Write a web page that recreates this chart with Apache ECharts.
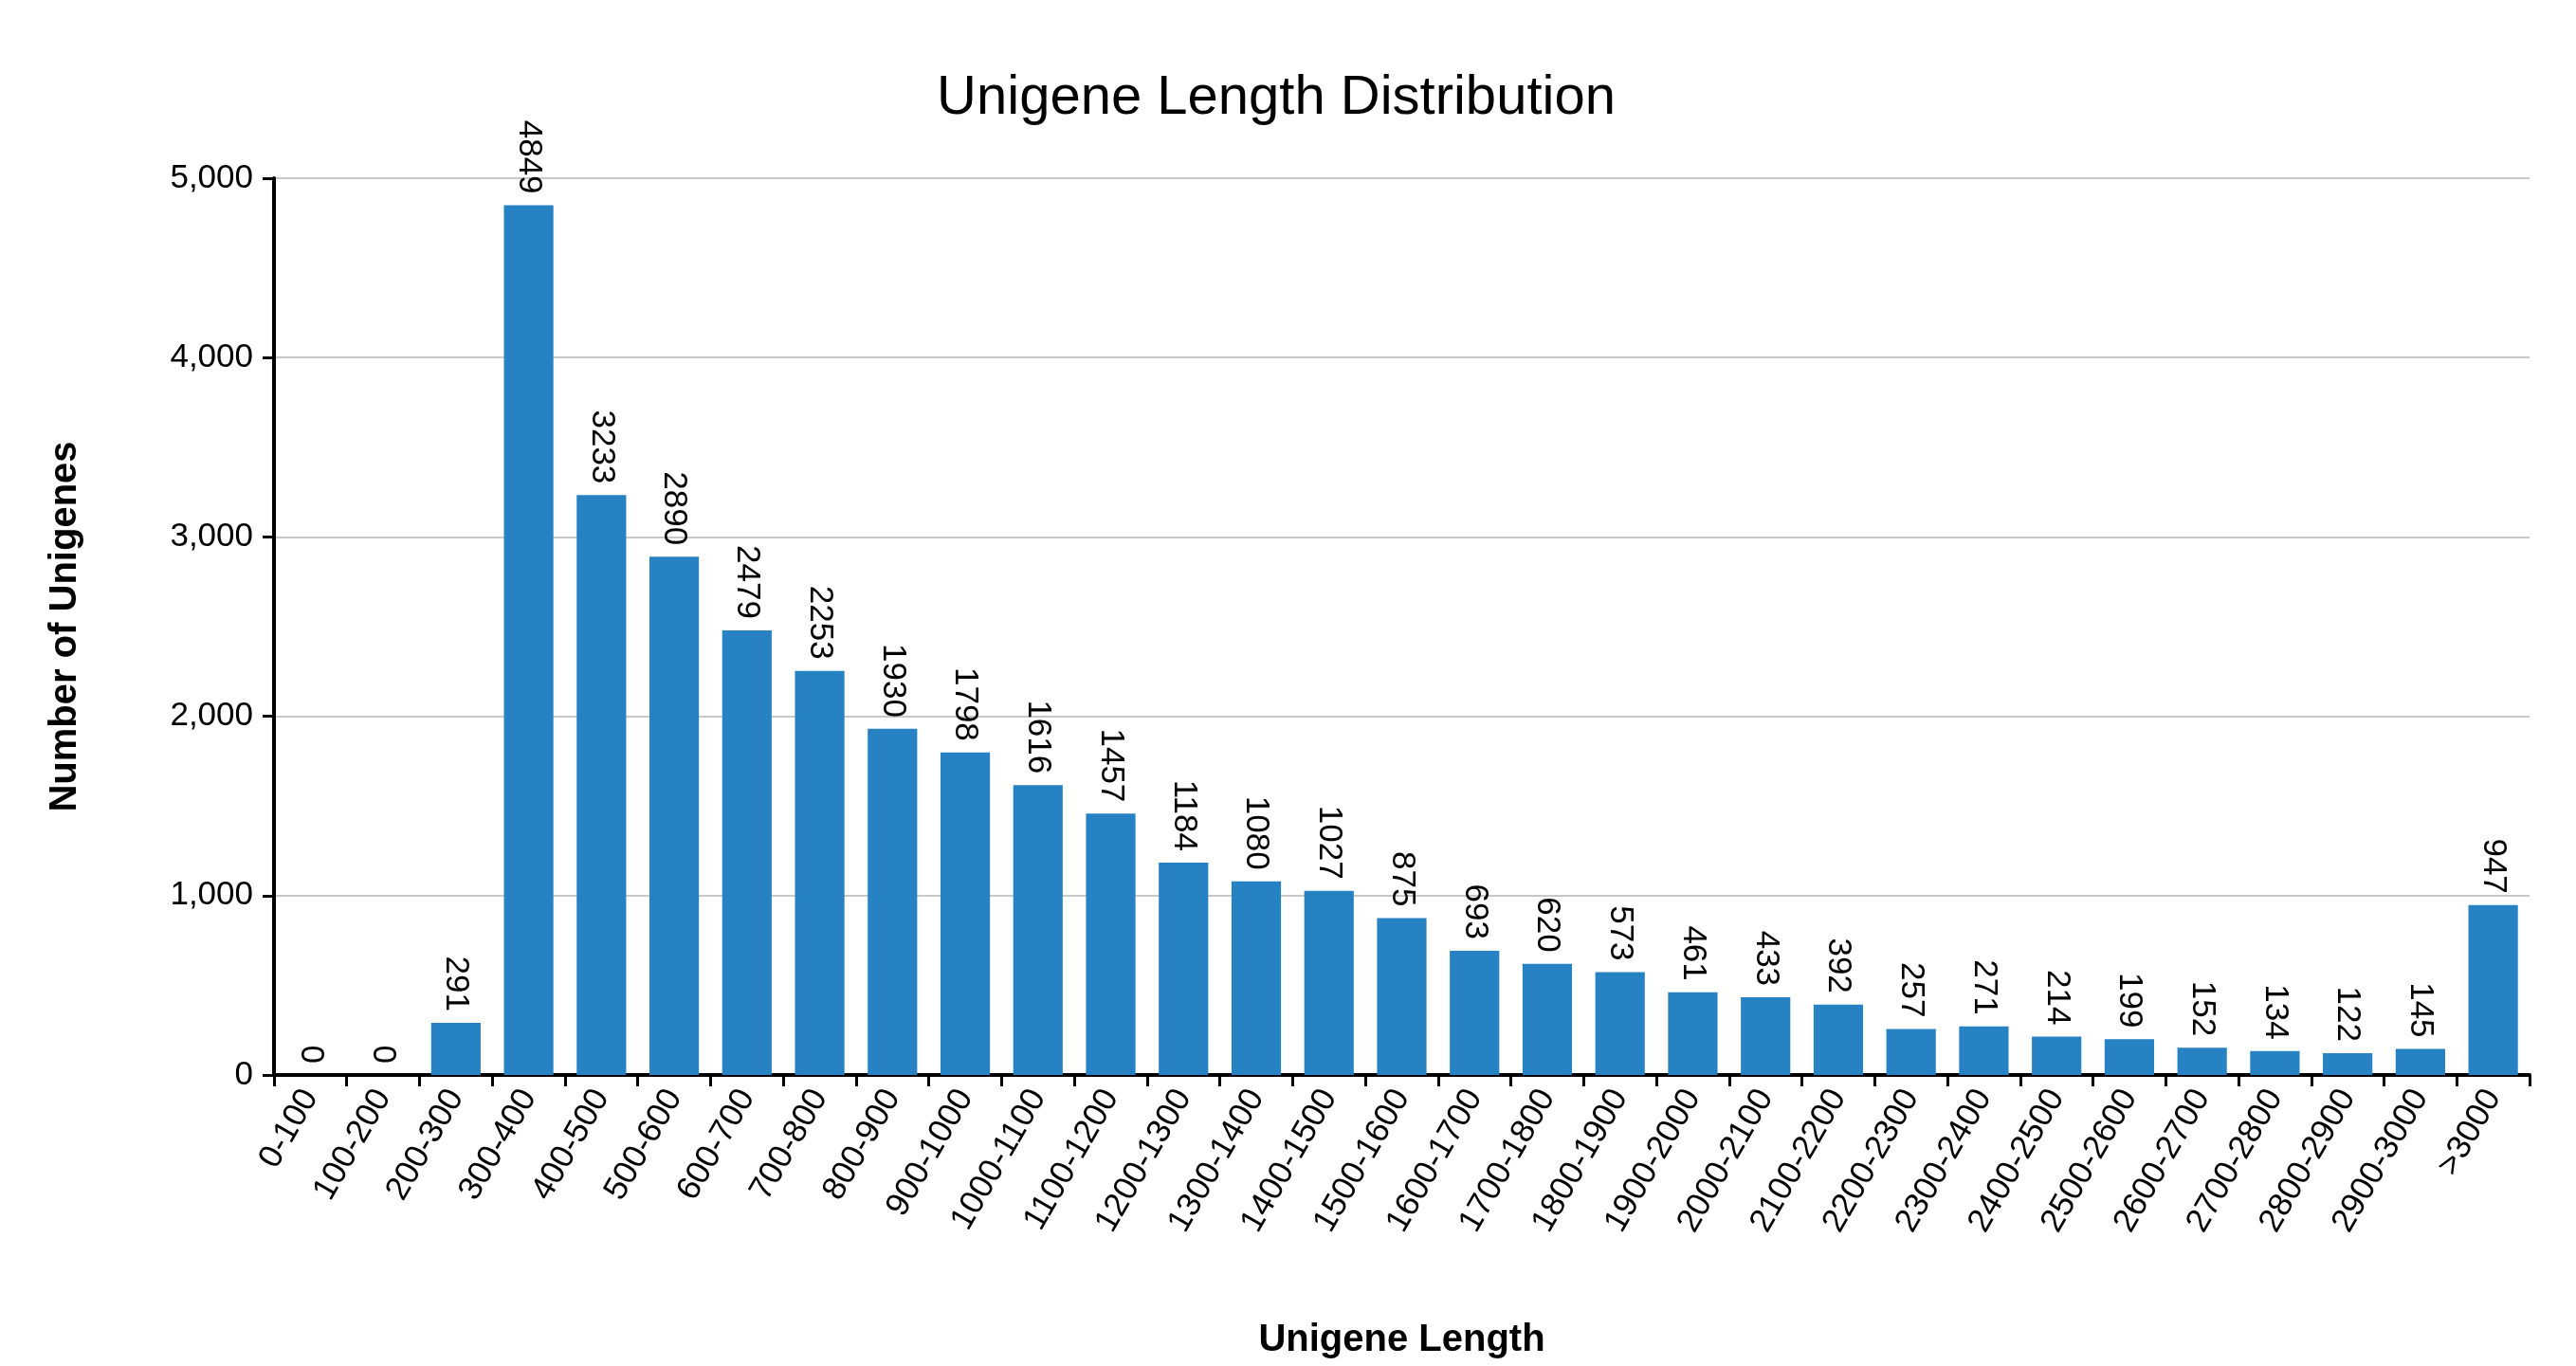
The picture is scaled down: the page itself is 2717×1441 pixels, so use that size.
<!DOCTYPE html>
<html><head><meta charset="utf-8">
<script src="https://cdn.jsdelivr.net/npm/echarts@6/dist/echarts.min.js"></script>
<style>html,body{margin:0;background:#fff}#c{width:2717px;height:1441px}</style>
</head><body><div id="c"></div>
<script>
const categories = ['0-100','100-200','200-300','300-400','400-500','500-600','600-700','700-800','800-900','900-1000',
  '1000-1100','1100-1200','1200-1300','1300-1400','1400-1500','1500-1600','1600-1700','1700-1800','1800-1900','1900-2000',
  '2000-2100','2100-2200','2200-2300','2300-2400','2400-2500','2500-2600','2600-2700','2700-2800','2800-2900','2900-3000','>3000'];
const counts = [0,0,291,4849,3233,2890,2479,2253,1930,1798,1616,1457,1184,1080,1027,875,693,620,573,461,433,392,257,271,214,199,152,134,122,145,947];

const chart = echarts.init(document.getElementById('c'));
const font = 'Arial, "Liberation Sans", sans-serif';
chart.setOption({
  animation: false,
  textStyle: { fontFamily: font },
  title: { text: 'Unigene Length Distribution', left: 1341, textAlign: 'center', top: 70,
    textStyle: { fontSize: 58, fontWeight: 'normal', color: '#000', fontFamily: font } },
  grid: { left: 289, right: 49, top: 188, bottom: 307 },
  xAxis: {
    type: 'category', data: categories,
    name: 'Unigene Length', nameLocation: 'middle', nameGap: 260,
    nameTextStyle: { fontSize: 40, fontWeight: 'bold', color: '#000' },
    axisLine: { lineStyle: { color: '#000', width: 4 } },
    axisTick: { show: true, length: 12, lineStyle: { color: '#000', width: 3 } },
    axisLabel: { rotate: 60, fontSize: 35, color: '#000', margin: 18, interval: 0 }
  },
  yAxis: {
    type: 'value', min: 0, max: 5000, interval: 1000,
    name: 'Number of Unigenes', nameLocation: 'middle', nameGap: 200,
    nameTextStyle: { fontSize: 40, fontWeight: 'bold', color: '#000' },
    axisLine: { show: true, lineStyle: { color: '#000', width: 4 } },
    axisTick: { show: true, length: 12, lineStyle: { color: '#000', width: 3 } },
    axisLabel: { fontSize: 35, color: '#000', margin: 22 },
    splitLine: { lineStyle: { color: '#c8c8c8', width: 2 } }
  },
  series: [{
    type: 'bar', data: counts, barWidth: '68%',
    itemStyle: { color: '#2782c4' },
    label: { show: true, position: 'top', rotate: -90, align: 'right', verticalAlign: 'middle',
      distance: 12, fontSize: 35, color: '#000' }
  }]
});
</script></body></html>
